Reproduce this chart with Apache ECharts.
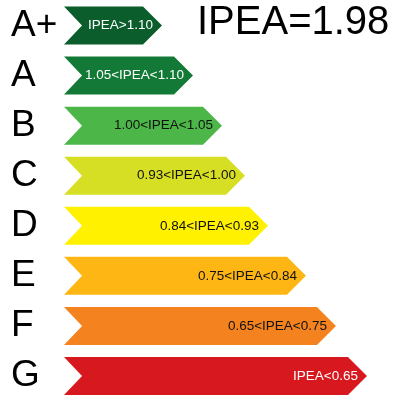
<!DOCTYPE html>
<html>
<head>
<meta charset="utf-8">
<script src="https://cdn.jsdelivr.net/npm/echarts@6/dist/echarts.min.js"></script>
<style>
  html, body { margin: 0; padding: 0; background: #fff; }
  #chart { width: 393px; height: 401px; }
</style>
</head>
<body>
<div id="chart"></div>
<script>
// classes, top to bottom
var classes = ["A+", "A", "B", "C", "D", "E", "F", "G"];
var ranges = ["IPEA>1.10", "1.05<IPEA<1.10", "1.00<IPEA<1.05", "0.93<IPEA<1.00",
  "0.84<IPEA<0.93", "0.75<IPEA<0.84", "0.65<IPEA<0.75", "IPEA<0.65"];
// arrow length of each class (tip)
var lengths = [98, 129, 158, 181, 204, 242, 272, 303];
var colors = ["#0b5e2b", "#127a36", "#4cb748", "#d6df23", "#fff100", "#fdb614", "#f4821f", "#d7191f"];
var textColors = ["#fff", "#fff", "#111", "#111", "#111", "#111", "#111", "#fff"];
var ipea = "1.98";

var chart = echarts.init(document.getElementById("chart"));

var option = {
  animation: false,
  title: {
    text: "IPEA=" + ipea,
    left: 197,
    top: 3,
    padding: 0,
    textStyle: { fontSize: 40, fontWeight: "normal", color: "#000", fontFamily: "Liberation Sans, Arial" }
  },
  grid: { left: 64, right: 0, top: 0.5, height: 407 },
  xAxis: {
    type: "value", min: 0, max: 329,
    show: false
  },
  yAxis: {
    type: "category",
    inverse: true,
    data: classes,
    axisLine: { show: false },
    axisTick: { show: false },
    splitLine: { show: false },
    axisLabel: {
      align: "left",
      margin: 53,
      fontSize: 37,
      color: "#000",
      fontFamily: "Liberation Sans, Arial"
    }
  },
  series: [{
    type: "custom",
    encode: { x: 0, y: 1 },
    data: lengths.map(function (v, i) { return [v, i]; }),
    renderItem: function (params, api) {
      var i = api.value(1);
      var start = api.coord([0, i]);
      var end = api.coord([api.value(0), i]);
      var h = api.size([0, 1])[1] * 0.76;
      var hh = h / 2;
      var y = start[1];
      return {
        type: "group",
        children: [{
          type: "polygon",
          shape: {
            points: [
              [start[0], y - hh], [end[0] - hh, y - hh], [end[0], y],
              [end[0] - hh, y + hh], [start[0], y + hh], [start[0] + hh - 1, y]
            ]
          },
          style: { fill: colors[i] }
        }, {
          type: "text",
          style: {
            text: ranges[i],
            x: end[0] - 9,
            y: y,
            align: "right",
            verticalAlign: "middle",
            fill: textColors[i],
            fontSize: 13.5,
            fontFamily: "Liberation Sans, Arial"
          }
        }]
      };
    }
  }]
};

chart.setOption(option);
</script>
</body>
</html>
